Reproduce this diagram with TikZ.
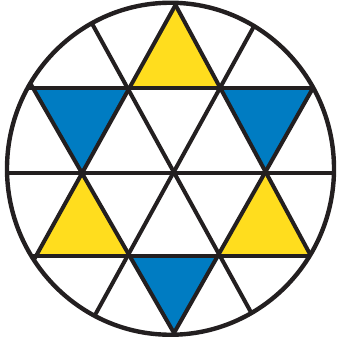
\documentclass[tikz,border=0pt]{standalone}
\definecolor{staryellow}{RGB}{255,221,30}
\definecolor{starblue}{RGB}{0,124,194}
\definecolor{ink}{RGB}{35,31,32}
\begin{document}
\begin{tikzpicture}[x=1pt,y=-1pt,
  gridline/.style={draw=ink,line width=4pt,shorten <=-120pt,shorten >=-120pt},
  yfill/.style={fill=staryellow},
  bfill/.style={fill=starblue},
  rim/.style={draw=ink,line width=4.4pt}]
\useasboundingbox (0,0) rectangle (339,345);
% lattice points
\coordinate (T)  at (175.5,5);
\coordinate (B)  at (174,333);
\coordinate (L1) at (33,88);
\coordinate (A1) at (127.5,88);
\coordinate (A2) at (220,88);
\coordinate (R1) at (313,88);
\coordinate (M1) at (82,172.5);
\coordinate (M2) at (174.5,172.5);
\coordinate (M3) at (265.5,172.5);
\coordinate (L3) at (36,256);
\coordinate (C1) at (127.5,256);
\coordinate (C2) at (220,256);
\coordinate (R3) at (311,256);
\coordinate (O)  at (170.5,168.75);
\begin{scope}
  \clip (O) ellipse [x radius=163.5, y radius=166];
  % coloured triangles
  \path[yfill] (T) -- (A1) -- (A2) -- cycle;
  \path[bfill] (L1) -- (A1) -- (M1) -- cycle;
  \path[bfill] (A2) -- (R1) -- (M3) -- cycle;
  \path[yfill] (M1) -- (L3) -- (C1) -- cycle;
  \path[yfill] (M3) -- (C2) -- (R3) -- cycle;
  \path[bfill] (C1) -- (C2) -- (B) -- cycle;
  % horizontal lines
  \draw[gridline] (L1) -- (R1);
  \draw[gridline] (M1) -- (M3);
  \draw[gridline] (L3) -- (R3);
  % rising lines
  \draw[gridline] (T) -- (L3);
  \draw[gridline] (A2) -- (C1);
  \draw[gridline] (R1) -- (B);
  % falling lines
  \draw[gridline] (T) -- (R3);
  \draw[gridline] (A1) -- (C2);
  \draw[gridline] (L1) -- (B);
\end{scope}
\draw[rim] (O) ellipse [x radius=163.5, y radius=166];
\end{tikzpicture}
\end{document}
